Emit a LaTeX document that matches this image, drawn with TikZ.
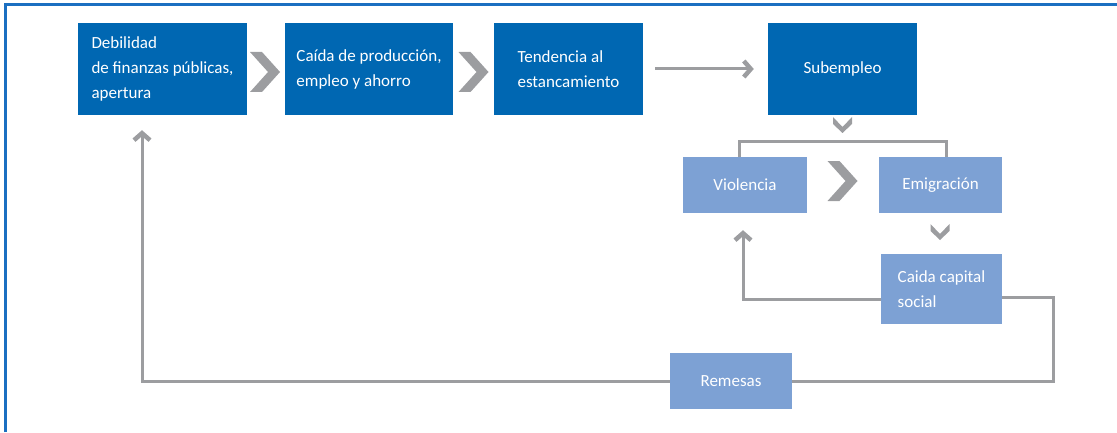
\documentclass[tikz,border=0pt]{standalone}
\usepackage{fontspec}
\setmainfont{Carlito}
\usetikzlibrary{arrows.meta}
\definecolor{darkbox}{HTML}{0067B2}
\definecolor{lightbox}{HTML}{7DA1D4}
\definecolor{linegray}{HTML}{9C9DA0}
\definecolor{frameblue}{HTML}{1B6FC1}
\tikzset{
  box/.style={fill=darkbox,text=white,align=left,minimum height=92pt,font=\fontsize{17}{25}\selectfont},
  lbox/.style={fill=lightbox,text=white,align=left,minimum height=56pt,font=\fontsize{17}{25}\selectfont},
  link/.style={draw=linegray,line width=3pt},
  tip/.style={-{Straight Barb[length=7pt,width=16pt,line width=4.5pt]}},
  bigchev/.pic={\fill[linegray] (-15,20) -- (-3,20) -- (15,0) -- (-3,-20) -- (-15,-20) -- (3,0) -- cycle;},
  smallchev/.pic={\fill[linegray] (-9.5,8) -- (0,-2) -- (9.5,8) -- (9.5,1) -- (0,-8) -- (-9.5,1) -- cycle;}
}
\begin{document}
\begin{tikzpicture}[x=1pt,y=1pt]
        \useasboundingbox (0,0) rectangle (1117,432);
        \draw[frameblue,line width=3pt] (5,0) -- (5,427) -- (1117,427);
        \node[box,minimum width=169pt] (debil) at (162.5,363) {Debilidad\\de finanzas públicas,\\apertura};
        \node[box,minimum width=168pt] (caida) at (369,363) {Caída de producción,\\empleo y ahorro};
        \node[box,minimum width=149pt] (tend) at (568.5,363) {Tendencia al\\estancamiento};
        \node[box,minimum width=149pt] (subem) at (842.5,363) {Subempleo};
        \node[lbox,minimum width=124pt] (viol) at (745,247) {Violencia};
        \node[lbox,minimum width=123pt] (emig) at (940.5,247) {Emigración};
        \node[lbox,minimum width=121pt,minimum height=70pt] (capital) at (941.5,143) {Caida capital\\social};
        \node[lbox,minimum width=122pt] (remesas) at (731,51) {Remesas};
        \pic at (265,360) {bigchev};
        \pic at (473.5,360) {bigchev};
        \pic at (842.5,251) {bigchev};
        \pic at (842.5,307) {smallchev};
        \pic at (940,200) {smallchev};
        \draw[link,tip,shorten <=12pt,shorten >=14pt] (tend) -- (subem);
        \draw[link] ([xshift=-6pt]viol.north) |- ([yshift=-26pt]subem.south) -| ([xshift=6pt]emig.north);
        \draw[link,tip] ([yshift=-10pt]capital.west) -| ([xshift=-2pt,yshift=-17pt]viol.south);
        \coordinate (turn) at (1053,51);
        \draw[link] ([yshift=-8pt]capital.east) -| (turn) -- (remesas.east);
        \draw[link,tip] (remesas.west) -| ([xshift=-20.5pt,yshift=-15pt]debil.south);
    \end{tikzpicture}
\end{document}
